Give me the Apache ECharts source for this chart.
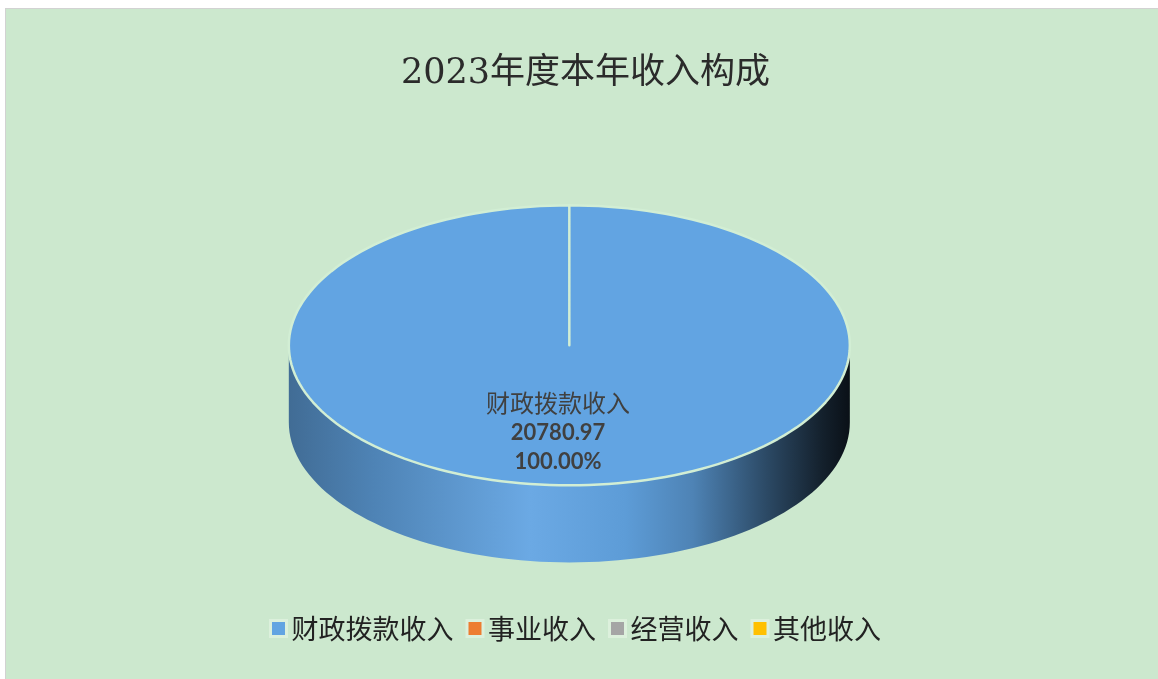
<!DOCTYPE html>
<html>
<head>
<meta charset="utf-8">
<script src="https://cdn.jsdelivr.net/npm/echarts@6/dist/echarts.min.js"></script>
<style>
  html, body { margin: 0; padding: 0; background: #fff; }
  #panel {
    position: absolute; left: 5px; top: 8px; width: 1153px; height: 671px;
    box-sizing: border-box; border-top: 1px solid #d2d2d2; border-left: 1px solid #d2d2d2;
    background: #cce8ce;
  }
  #chart { width: 100%; height: 100%; }
</style>
</head>
<body>
<div id="panel"><div id="chart"></div></div>
<script>
  // 收入构成数据
  const categories = ['财政拨款收入', '事业收入', '经营收入', '其他收入'];
  const values = [20780.97, 0, 0, 0];
  const colors = ['#62a4e2', '#ed7d31', '#a5a5a5', '#ffc000'];

  const total = values.reduce((s, v) => s + v, 0);

  // 椭圆饼图的位置（按画布比例）
  const PIE = { cx: 0.489, cy: 0.502, rx: 0.2435, ry: 0.209, depth: 0.115 };

  function shade(hex, f) {
    const n = parseInt(hex.slice(1), 16);
    const ch = [(n >> 16) & 255, (n >> 8) & 255, n & 255].map(c => {
      const v = f <= 1 ? c * f : c + (255 - c) * (f - 1);
      return Math.max(0, Math.min(255, Math.round(v)));
    });
    return 'rgb(' + ch.join(',') + ')';
  }

  function renderSlice(params, api) {
    const idx = params.seriesIndex;
    const value = values[idx];
    if (!value || !total) return { type: 'group', children: [] };

    const W = api.getWidth();
    const H = api.getHeight();
    const cx = PIE.cx * W, cy = PIE.cy * H;
    const rx = PIE.rx * W, ry = PIE.ry * H;
    const depth = PIE.depth * H;

    let before = 0;
    for (let i = 0; i < idx; i++) before += values[i];
    const a0 = before / total * 360;
    const a1 = (before + value) / total * 360;
    const pt = (deg, dy) => {
      const r = deg * Math.PI / 180;
      return [cx + rx * Math.sin(r), cy - ry * Math.cos(r) + (dy || 0)];
    };
    const arc = (from, to, dy) => {
      const steps = Math.max(2, Math.ceil((to - from) / 2));
      const pts = [];
      for (let k = 0; k <= steps; k++) pts.push(pt(from + (to - from) * k / steps, dy));
      return pts;
    };

    const children = [];
    const color = colors[idx];

    // 侧面（只画前半部分 90°~270°）
    const s0 = Math.max(a0, 90), s1 = Math.min(a1, 270);
    if (s1 > s0) {
      const top = arc(s0, s1, 0);
      const bottom = arc(s0, s1, depth).reverse();
      children.push({
        type: 'polygon',
        shape: { points: top.concat(bottom) },
        style: {
          fill: {
            type: 'linear', global: true,
            x: cx - rx, y: 0, x2: cx + rx, y2: 0,
            colorStops: [
              { offset: 0, color: shade(color, 0.66) },
              { offset: 0.15, color: shade(color, 0.8) },
              { offset: 0.43, color: shade(color, 1.06) },
              { offset: 0.6, color: shade(color, 0.95) },
              { offset: 0.72, color: shade(color, 0.8) },
              { offset: 0.85, color: shade(color, 0.45) },
              { offset: 0.95, color: shade(color, 0.2) },
              { offset: 1, color: shade(color, 0.1) }
            ]
          }
        }
      });
    }

    // 顶面
    children.push({
      type: 'polygon',
      shape: { points: [[cx, cy]].concat(arc(a0, a1, 0)) },
      style: { fill: color, stroke: '#d2eed4', lineWidth: 2.5, lineJoin: 'round' }
    });

    // 标签
    const mid = (a0 + a1) / 2;
    const lp = [cx + 0.62 * rx * Math.sin(mid * Math.PI / 180) - 0.04 * rx, cy - 0.62 * ry * Math.cos(mid * Math.PI / 180)];
    children.push({
      type: 'text',
      x: lp[0], y: lp[1],
      style: {
        text: '{n|' + categories[idx] + '}\n{v|' + value.toFixed(2) + '}\n{v|' + (value / total * 100).toFixed(2) + '%}',
        align: 'center',
        verticalAlign: 'middle',
        rich: {
          n: { fontSize: 24, fill: '#404040', fontFamily: 'Noto Sans CJK SC', lineHeight: 30 },
          v: { fontSize: 22, fill: '#404040', fontWeight: 'bold', fontFamily: 'Lato', lineHeight: 29 }
        }
      }
    });

    return { type: 'group', children: children };
  }

  const chart = echarts.init(document.getElementById('chart'));

  const option = {
    animation: false,
    title: {
      text: '2023年度本年收入构成',
      left: 390,
      top: 42,
      textStyle: {
        fontSize: 35,
        fontWeight: 'normal',
        color: '#2b2b2b',
        fontFamily: "'DejaVu Serif', 'Noto Sans CJK SC', serif"
      }
    },
    legend: {
      data: categories,
      left: 258,
      top: 601,
      icon: 'rect',
      itemWidth: 16,
      itemHeight: 16,
      itemGap: 12,
      itemStyle: { borderColor: '#dcf0dc', borderWidth: 3 },
      textStyle: { fontSize: 27, color: '#222', fontFamily: 'Noto Sans CJK SC' }
    },
    series: categories.map((name, i) => ({
      name: name,
      type: 'custom',
      coordinateSystem: 'none',
      itemStyle: { color: colors[i] },
      renderItem: renderSlice,
      data: [[values[i]]]
    }))
  };

  chart.setOption(option);
  window.addEventListener('resize', () => chart.resize());
</script>
</body>
</html>
